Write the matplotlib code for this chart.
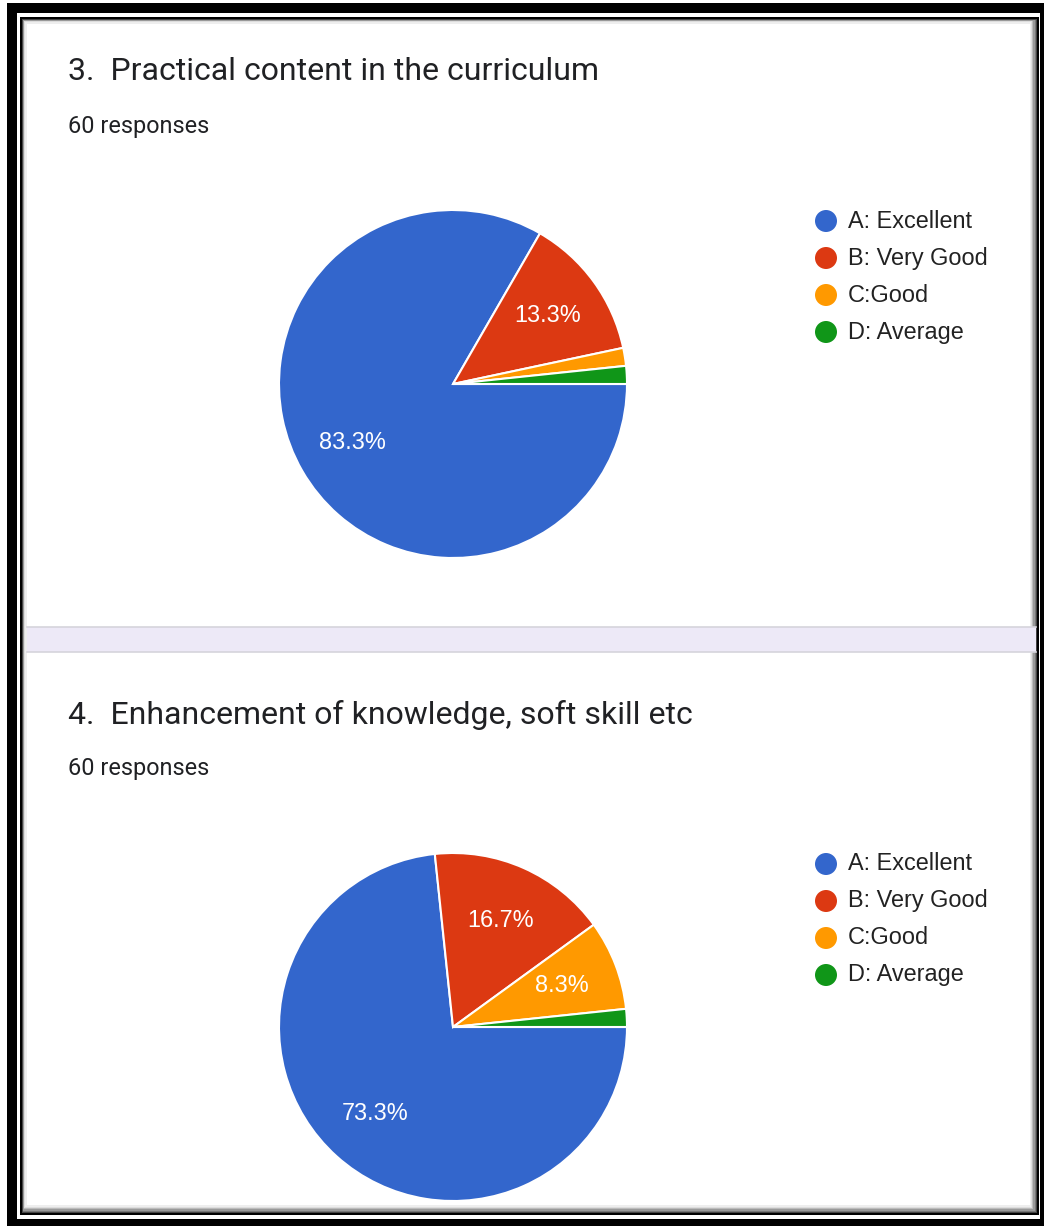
import matplotlib.pyplot as plt
from matplotlib.patches import Rectangle

W, H = 1044, 1226

# survey data
labels = ["A: Excellent", "B: Very Good", "C:Good", "D: Average"]
colors = ["#3366CC", "#DC3912", "#FF9900", "#109618"]
titles = ["3.  Practical content in the curriculum",
          "4.  Enhancement of knowledge, soft skill etc"]
responses = [60, 60]
counts_q3 = [50, 8, 1, 1]
counts_q4 = [44, 10, 5, 1]

fig = plt.figure(figsize=(W / 100, H / 100), dpi=100)
fig.patch.set_facecolor("white")
bg = fig.add_axes([0, 0, 1, 1])
bg.set_xlim(0, W)
bg.set_ylim(H, 0)
bg.axis("off")


def rect(x0, y0, x1, y1, color, **kw):
    bg.add_patch(Rectangle((x0, y0), x1 - x0, y1 - y0, facecolor=color,
                           edgecolor="none", **kw))


# picture frame
rect(7, 3, W, H, "black")
rect(17, 13, 1040, 1219, "white")
rect(20, 17, 1039, 1215, "black")
# soft shadow inside the frame
for i, c in enumerate(["#444444", "#777777", "#999999", "#bbbbbb", "#dddddd", "#eeeeee"]):
    rect(22 + i * 0.6, 19 + i * 0.6, 1037 - i * 1.2, 1213 - i * 1.2, c)
rect(27, 24, 1030, 1205, "white")

# band between the two cards
rect(27, 627, 1036, 652, "#EDE9F7")
bg.plot([27, 1036], [627, 627], color="#d6d4dc", lw=1.2)
bg.plot([27, 1036], [652, 652], color="#d6d4dc", lw=1.2)


def px(v):
    return v * 0.72


def card(top, title, n, counts):
    bg.text(68, top + 72, title, fontsize=px(32), family="Roboto",
            color="#202124", va="center", ha="left")
    bg.text(68, top + 126, f"{n} responses", fontsize=px(23.5), family="Roboto",
            color="#202124", va="center", ha="left")

    cx, cy, r = 453, top + 384, 174
    ra = 178
    ax = fig.add_axes([(cx - ra) / W, 1 - (cy + ra) / H, 2 * ra / W, 2 * ra / H])
    ax.pie(counts, colors=colors, startangle=0, counterclock=False,
           wedgeprops=dict(edgecolor="white", linewidth=1.5),
           autopct=lambda p: f"{p:.1f}%" if p > 5 else "",
           pctdistance=0.67,
           textprops=dict(color="white", fontsize=px(23.5), family="Liberation Sans"))
    ax.set_xlim(-ra / r, ra / r)
    ax.set_ylim(-ra / r, ra / r)

    for i, (lab, col) in enumerate(zip(labels, colors)):
        y = top + 221 + i * 37
        bg.scatter([826], [y], s=px(22) ** 2, color=col, edgecolors="none")
        bg.text(848, y, lab, fontsize=px(23.5), family="Liberation Sans",
                color="#222222", va="center", ha="left")


card(0, titles[0], responses[0], counts_q3)
card(643, titles[1], responses[1], counts_q4)

fig.savefig("out.png", dpi=100)
